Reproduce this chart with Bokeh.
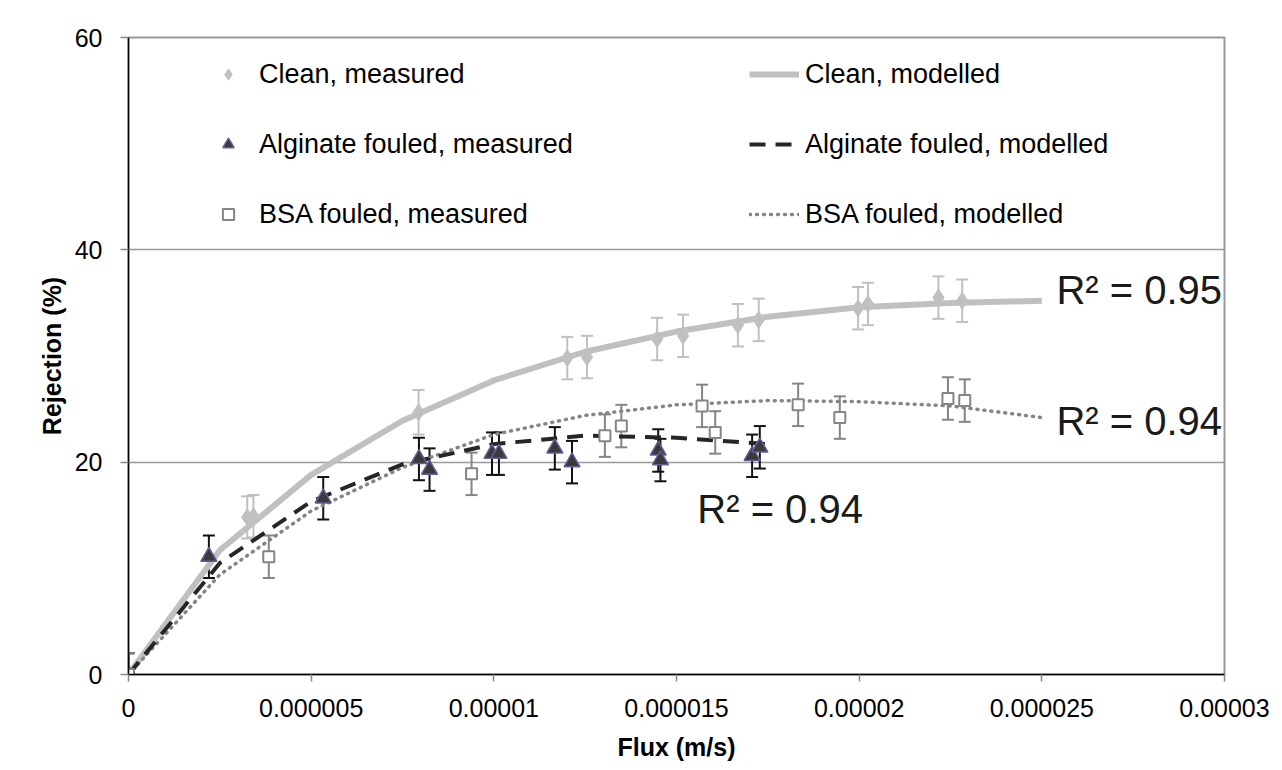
from bokeh.plotting import figure
from bokeh.models import (ColumnDataSource, Whisker, TeeHead, Legend, LegendItem, Label,
                          FixedTicker, CustomJSTickFormatter, Range1d)
from bokeh.embed import file_html
from bokeh.resources import INLINE

# ---------------- data ----------------
clean_x = [0.0, 0.00000325, 0.00000342, 0.00000794, 0.00001201, 0.00001255, 0.00001447,
           0.00001518, 0.00001668, 0.00001725, 0.00001997, 0.00002024, 0.00002217, 0.00002282]
clean_y = [0.0, 14.8, 14.9, 24.7, 29.8, 29.9, 31.6, 31.9, 32.9, 33.4, 34.5, 34.9, 35.5, 35.2]
clean_err = [2.0, 2.0, 2.0, 2.1, 2.0, 2.0, 2.0, 2.0, 2.0, 2.0, 2.0, 2.0, 2.0, 2.0]

alg_x = [0.0, 0.0000022, 0.00000533, 0.00000795, 0.00000824, 0.00000995, 0.00001014,
         0.00001167, 0.00001214, 0.0000145, 0.00001456, 0.00001707, 0.00001728]
alg_y = [0.0, 11.1, 16.6, 20.3, 19.3, 20.8, 20.8, 21.3, 20.0, 21.1, 20.2, 20.6, 21.4]
alg_err = [2.0, 2.0, 2.0, 2.0, 2.0, 2.0, 2.0, 2.0, 2.0, 2.0, 2.0, 2.0, 2.0]

bsa_x = [0.0, 0.00000384, 0.00000939, 0.00001304, 0.00001349, 0.0000157, 0.00001606,
         0.00001833, 0.00001947, 0.00002243, 0.00002289]
bsa_y = [0.0, 11.1, 18.9, 22.5, 23.4, 25.3, 22.8, 25.4, 24.2, 26.0, 25.8]
bsa_err = [2.0, 2.0, 2.0, 2.0, 2.0, 2.0, 2.0, 2.0, 2.0, 2.0, 2.0]

model_x = [0.0, 0.0000025, 0.000005, 0.0000075, 0.00001, 0.0000125, 0.000015,
           0.0000175, 0.00002, 0.0000225, 0.000025]
clean_model = [0.0, 11.7, 18.8, 23.9, 27.7, 30.4, 32.3, 33.7, 34.6, 35.0, 35.2]
bsa_model = [0.0, 9.4, 15.4, 19.5, 22.6, 24.4, 25.4, 25.8, 25.7, 25.3, 24.2]
alg_model_x = [0.0, 0.0000025, 0.000005, 0.0000075, 0.00001, 0.0000125, 0.000015, 0.0000175]
alg_model = [0.0, 10.5, 16.3, 19.8, 21.7, 22.5, 22.3, 21.7]

r2_labels = ["R\u00b2 = 0.95", "R\u00b2 = 0.94", "R\u00b2 = 0.94"]

xticks = [0.0, 0.000005, 0.00001, 0.000015, 0.00002, 0.000025, 0.00003]
xtick_labels = ["0", "0.000005", "0.00001", "0.000015", "0.00002", "0.000025", "0.00003"]
yticks = [0, 20, 40, 60]
x_title = "Flux (m/s)"
y_title = "Rejection (%)"

FONT = "Liberation Sans"
C_CLEAN = "#c0c0c0"
C_ALG = "#262626"
C_ALG_EDGE = "#6a5a9a"
C_BSA = "#858585"

p = figure(width=1280, height=770, output_backend="svg", toolbar_location=None,
           x_range=Range1d(0, 0.00003), y_range=Range1d(0, 60),
           min_border_left=128, min_border_right=56, min_border_top=37, min_border_bottom=96)
p.background_fill_color = "white"
p.border_fill_color = "white"
p.outline_line_color = "#999999"
p.outline_line_width = 2

# axes
p.xaxis.ticker = FixedTicker(ticks=xticks)
p.xaxis.formatter = CustomJSTickFormatter(args=dict(tvals=xticks, tlabels=xtick_labels), code="""
    for (let i = 0; i < tvals.length; i++) { if (Math.abs(tvals[i] - tick) < 1e-12) return tlabels[i]; }
    return '';
""")
p.yaxis.ticker = FixedTicker(ticks=yticks)
for ax in (p.xaxis, p.yaxis):
    ax.major_label_text_font = FONT
    ax.major_label_text_font_size = "25px"
    ax.major_label_text_color = "black"
    ax.axis_label_text_font = FONT
    ax.axis_label_text_font_size = "25px"
    ax.axis_label_text_font_style = "bold"
    ax.axis_label_text_color = "black"
    ax.axis_line_color = "black"
    ax.axis_line_width = 1.5
    ax.major_tick_line_color = "#888888"
    ax.major_tick_line_width = 1.5
    ax.major_tick_in = 0
    ax.minor_tick_line_color = None
p.xaxis.major_tick_out = 7
p.yaxis.major_tick_out = 8
p.xaxis.major_label_standoff = 17
p.yaxis.major_label_standoff = 18
p.xaxis.axis_label = x_title
p.yaxis.axis_label = y_title
p.xaxis.axis_label_standoff = 13
p.yaxis.axis_label_standoff = 6

p.xgrid.grid_line_color = None
p.ygrid.grid_line_color = "#9a9a9a"
p.ygrid.grid_line_width = 1.5

# modelled lines
l_clean = p.line(model_x, clean_model, line_color=C_CLEAN, line_width=6)
l_bsa = p.line(model_x, bsa_model, line_color=C_BSA, line_width=3.5, line_dash="1 6", line_cap="round")
l_alg = p.line(alg_model_x, alg_model, line_color=C_ALG, line_width=4, line_dash="16 10")

# measured points + error bars
def err_source(xs, ys, es):
    return ColumnDataSource(dict(x=xs, y=ys, lo=[a - b for a, b in zip(ys, es)],
                                 hi=[a + b for a, b in zip(ys, es)]))

s_clean = err_source(clean_x, clean_y, clean_err)
s_alg = err_source(alg_x, alg_y, alg_err)
s_bsa = err_source(bsa_x, bsa_y, bsa_err)

m_clean = p.scatter("x", "y", source=s_clean, marker="diamond", size=17,
                    fill_color=C_CLEAN, line_color=C_CLEAN)
m_alg = p.scatter("x", "y", source=s_alg, marker="triangle", size=16,
                  fill_color="#3a3a3a", line_color=C_ALG_EDGE, line_width=1.5)
m_bsa = p.scatter("x", "y", source=s_bsa, marker="square", size=11,
                  fill_color="white", line_color=C_BSA, line_width=2)

for src, col in ((s_clean, C_CLEAN), (s_alg, "#111111"), (s_bsa, C_BSA)):
    w = Whisker(base="x", lower="lo", upper="hi", source=src, line_color=col, line_width=2,
                upper_head=TeeHead(size=12, line_color=col, line_width=2),
                lower_head=TeeHead(size=12, line_color=col, line_width=2))
    p.add_layout(w)

# legend
legend = Legend(items=[
    LegendItem(label="Clean, measured", renderers=[m_clean]),
    LegendItem(label="Alginate fouled, measured", renderers=[m_alg]),
    LegendItem(label="BSA fouled, measured", renderers=[m_bsa]),
    LegendItem(label="Clean, modelled", renderers=[l_clean]),
    LegendItem(label="Alginate fouled, modelled", renderers=[l_alg]),
    LegendItem(label="BSA fouled, modelled", renderers=[l_bsa]),
], location=(75, 425), nrows=3, orientation="vertical",
    label_text_font=FONT, label_text_font_size="27px", label_text_color="black",
    glyph_width=50, glyph_height=28, label_standoff=6, label_height=70, label_width=490,
    spacing=0, padding=0, margin=0, border_line_color=None, background_fill_alpha=0)
p.add_layout(legend)

# R^2 annotations
r2_pos = [(0.0000254, 36.2), (0.0000254, 23.9), (0.00001557, 15.6)]
for txt, (lx, ly) in zip(r2_labels, r2_pos):
    p.add_layout(Label(x=lx, y=ly, text=txt, text_font=FONT, text_font_size="40px",
                       text_color="#1a1a1a", text_baseline="middle", text_align="left"))

open("out.html", "w").write(file_html(p, INLINE))
